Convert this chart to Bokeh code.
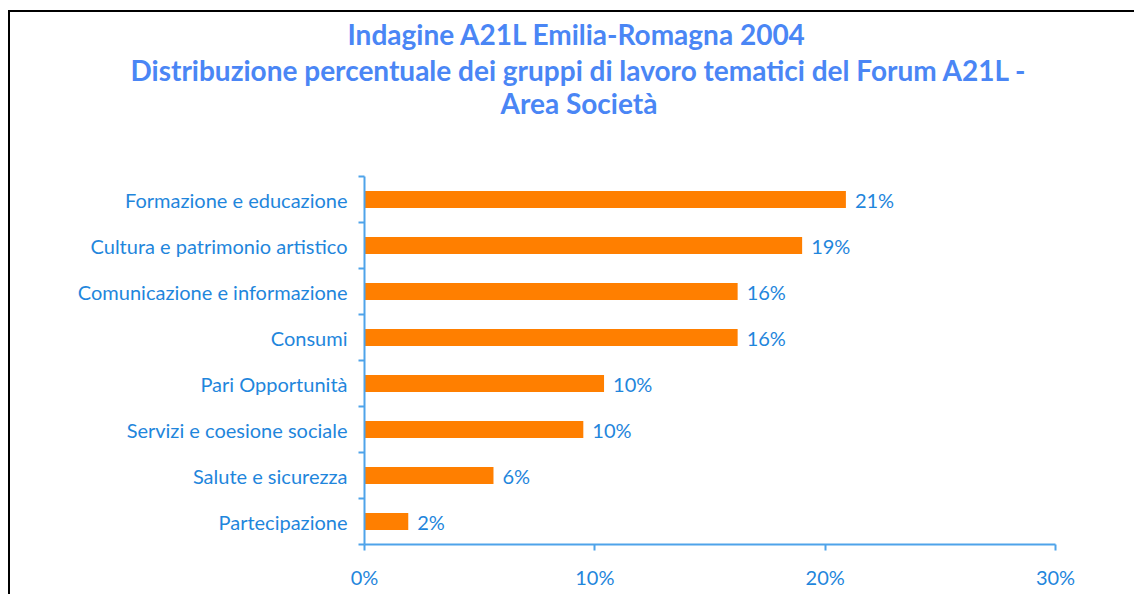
from bokeh.plotting import figure
from bokeh.models import (ColumnDataSource, Range1d, FixedTicker, LabelSet, Title,
                          PrintfTickFormatter)
from bokeh.core.properties import value
from bokeh.embed import file_html
from bokeh.resources import INLINE

title_lines = ["Indagine A21L Emilia-Romagna 2004",
               "Distribuzione percentuale dei gruppi di lavoro tematici del Forum A21L -",
               "Area Società"]
categories = ["Formazione e educazione", "Cultura e patrimonio artistico",
              "Comunicazione e informazione", "Consumi", "Pari Opportunità",
              "Servizi e coesione sociale", "Salute e sicurezza", "Partecipazione"]
values = [20.9, 19.0, 16.2, 16.2, 10.4, 9.5, 5.6, 1.9]
x_ticks = [0, 10, 20, 30]

TITLE_C = "#4a86f5"
TEXT_C = "#1f86dc"
AXIS_C = "#4ea3ea"
BAR_C = "#ff7f00"
FONT = "Lato"

n = len(categories)
ypos = [n - i - 0.5 for i in range(n)]
labels = [f"{round(v)}%" for v in values]
src = ColumnDataSource(dict(y=ypos, v=values, lab=labels, cat=categories))

W, H = 1134, 594
p = figure(width=W, height=H, output_backend="svg", toolbar_location=None,
           title=None,
           x_range=Range1d(0, 30), y_range=Range1d(0, n),
           min_border_left=364, min_border_right=79, min_border_top=176,
           min_border_bottom=50)
p.outline_line_color = None
p.grid.visible = False
p.background_fill_color = None
p.border_fill_color = None
# the picture's own frame: black top and left edges
p.styles = {"background": ("linear-gradient(#000,#000) 8px 10px / 1126px 2px no-repeat, "
                           "linear-gradient(#000,#000) 8px 10px / 2px 584px no-repeat, #fff")}

p.hbar(y="y", right="v", left=0, height=0.37, source=src,
       fill_color=BAR_C, line_color=None)

p.add_layout(LabelSet(x="v", y="y", text="lab", source=src, x_offset=9,
                      text_baseline="middle", text_align="left",
                      text_font=value(FONT), text_font_size=value("20px"),
                      text_color=value(TEXT_C)))

# x axis
xa = p.xaxis[0]
xa.ticker = FixedTicker(ticks=x_ticks, minor_ticks=[])
xa.formatter = PrintfTickFormatter(format="%d%%")
xa.axis_line_color = AXIS_C
xa.axis_line_width = 2
xa.major_tick_line_color = AXIS_C
xa.major_tick_line_width = 2
xa.major_tick_in = 0
xa.major_tick_out = 6
xa.major_label_standoff = 14
xa.major_label_text_font = FONT
xa.major_label_text_font_size = "20px"
xa.major_label_text_color = TEXT_C

# y axis: labels at centres, ticks at boundaries
ya = p.yaxis[0]
ya.ticker = FixedTicker(ticks=ypos, minor_ticks=list(range(n + 1)))
ya.major_label_overrides = {y: c for y, c in zip(ypos, categories)}
ya.axis_line_color = AXIS_C
ya.axis_line_width = 2
ya.major_tick_line_color = None
ya.major_tick_in = 0
ya.major_tick_out = 6
ya.minor_tick_line_color = AXIS_C
ya.minor_tick_line_width = 2
ya.minor_tick_in = 0
ya.minor_tick_out = 6
ya.major_label_standoff = 11
ya.major_label_text_font = FONT
ya.major_label_text_font_size = "20px"
ya.major_label_text_color = TEXT_C

# blank spacer between the title block and the plot area (nearest the frame)
p.add_layout(Title(text=" ", standoff=24, text_font=FONT, text_font_size="28px"),
             "above")

# title lines: each added one sits above the previous
standoffs = [0, 0, -6]
offsets = [-17, -234, 136]
for t, so, off in zip(reversed(title_lines), reversed(standoffs), reversed(offsets)):
    p.add_layout(Title(text=t, align="left", offset=off, standoff=so,
                       text_font=FONT, text_font_style="bold",
                       text_font_size="28px", text_color=TITLE_C), "above")

open("out.html", "w").write(file_html(p, INLINE))
